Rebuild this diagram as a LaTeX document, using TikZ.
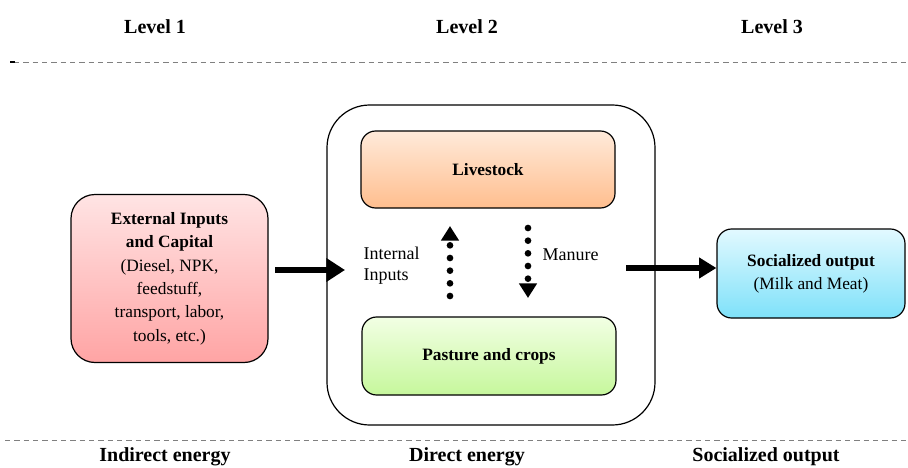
\documentclass[tikz,border=0pt]{standalone}
\usepackage{fontspec}
\setmainfont{Liberation Serif}
\usetikzlibrary{arrows.meta}
\definecolor{redtop}{HTML}{FFE4E4}
\definecolor{redbot}{HTML}{FFA4A4}
\definecolor{orangetop}{HTML}{FFEADA}
\definecolor{orangebot}{HTML}{FFBE8E}
\definecolor{greentop}{HTML}{F2FFE4}
\definecolor{greenbot}{HTML}{C6F79C}
\definecolor{bluetop}{HTML}{E2F9FF}
\definecolor{bluebot}{HTML}{7EE1F9}
\begin{document}
\begin{tikzpicture}[x=0.75pt, y=-0.75pt,
        box/.style = {draw, line width=0.9pt, rounded corners=11pt, align=center, font=\fontsize{13}{17.5}\selectfont},
        heading/.style = {font=\bfseries\fontsize{15}{17}\selectfont},
        divider/.style = {gray, dashed, dash pattern=on 4pt off 3pt, line width=0.6pt},
        bigarrow/.style = {line width=5pt, -{Triangle[length=14pt, width=17pt]}},
        dotarrow/.style = {line width=5pt, line cap=round, dash pattern=on 0pt off 9.5pt, -{Triangle[length=11pt, width=13pt]}}]
    \useasboundingbox (0,0) rectangle (908,468);
    % level headings
    \node[heading] (lev1) at (155,27) {Level 1};
    \node[heading] (lev2) at (467,27) {Level 2};
    \node[heading] (lev3) at (772,27) {Level 3};
    \coordinate (topL) at (14,62);
    \coordinate (topR) at (908,62);
    \draw[divider] (topL) -- (topR);
    \draw[line width=1.2pt] (10,62) -- (15,62);
    \coordinate (botL) at (5,440);
    \coordinate (botR) at (908,440);
    \draw[divider] (botL) -- (botR);
    \node[heading] (en1) at (165,457) {Indirect energy};
    \node[heading] (en2) at (467,457) {Direct energy};
    \node[heading] (en3) at (766,457) {Socialized output};
    % system boundary
    \node[draw, line width=0.9pt, rounded corners=32pt, minimum width=328*0.75pt, minimum height=320*0.75pt] (farm) at (491,265) {};
    % boxes
    \node[box, rounded corners=18pt, top color=redtop, bottom color=redbot, minimum width=197*0.75pt, minimum height=168*0.75pt] (ext) at (169.5,278.5)
        {\textbf{External Inputs}\\\textbf{and Capital}\\(Diesel, NPK,\\feedstuff,\\transport, labor,\\tools, etc.)};
    \node[box, top color=orangetop, bottom color=orangebot, minimum width=254*0.75pt, minimum height=77*0.75pt] (live) at (488,169.5)
        {\textbf{Livestock}};
    \node[box, top color=greentop, bottom color=greenbot, minimum width=254*0.75pt, minimum height=78*0.75pt] (past) at (489,356)
        {\textbf{Pasture and crops}};
    \node[box, top color=bluetop, bottom color=bluebot, minimum width=188*0.75pt, minimum height=89*0.75pt] (soc) at (811,273.5)
        {\textbf{Socialized output}\\(Milk and Meat)};
    % flows
    \coordinate (extout) at (275,270);
    \coordinate (farmin) at (345,270);
    \draw[bigarrow] (extout) -- (farmin);
    \coordinate (farmout) at (626,268);
    \draw[line width=4pt, -{Triangle[length=13pt, width=15pt]}] (farmout) -- (soc.west |- farmout);
    \coordinate (upA) at (450,296);
    \coordinate (upB) at (450,226);
    \draw[dotarrow] (upA) -- (upB);
    \coordinate (dnA) at (528,228);
    \coordinate (dnB) at (528,298);
    \draw[dotarrow] (dnA) -- (dnB);
    \node[align=left, anchor=west, font=\fontsize{13.5}{16}\selectfont] (intin) at (359,266) {Internal\\Inputs};
    \node[anchor=west, font=\fontsize{13.5}{16}\selectfont] (man) at (538,255) {Manure};
\end{tikzpicture}
\end{document}
